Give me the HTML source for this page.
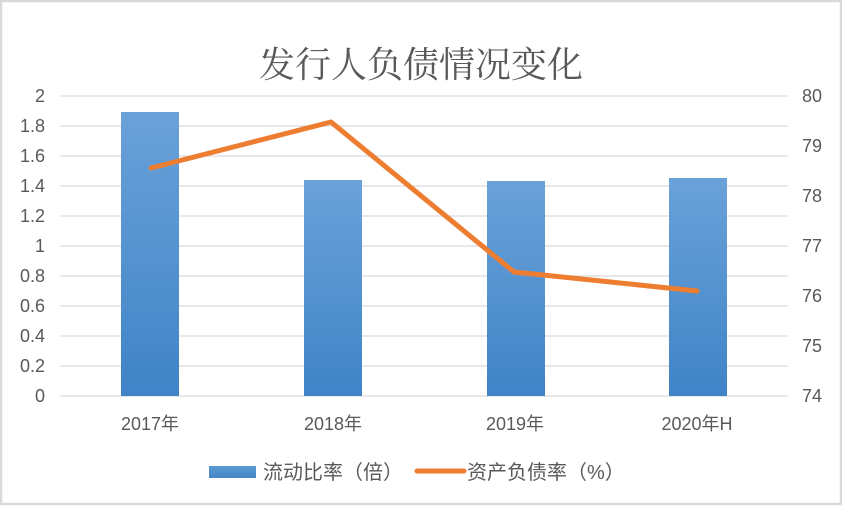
<!DOCTYPE html>
<html>
<head>
<meta charset="utf-8">
<style>
html,body{margin:0;padding:0;background:#fff;}
body{width:842px;height:506px;overflow:hidden;}
svg text{font-family:"Liberation Sans","Noto Sans CJK SC",sans-serif;fill:#595959;}
</style>
</head>
<body>
<svg width="842" height="506" viewBox="0 0 842 506" xmlns="http://www.w3.org/2000/svg">
<defs>
<linearGradient id="bg" x1="0" y1="0" x2="0" y2="1">
<stop offset="0" stop-color="#6aa1d9"/>
<stop offset="1" stop-color="#3f84c7"/>
</linearGradient>
<linearGradient id="lg" x1="0" y1="0" x2="0" y2="1">
<stop offset="0" stop-color="#5b9bd5"/>
<stop offset="1" stop-color="#4485c6"/>
</linearGradient>
</defs>
<rect x="0" y="0" width="842" height="506" fill="#fff"/>
<rect x="1" y="1" width="840" height="503" fill="none" stroke="#d9d9d9" stroke-width="2.5"/>

<text x="421" y="77" text-anchor="middle" font-size="36" style="fill:#595959;font-family:'Noto Serif CJK SC','Noto Sans CJK SC',serif;">发行人负债情况变化</text>

<g stroke="#d9d9d9" stroke-width="1.2">
<line x1="60" y1="96" x2="788" y2="96"/>
<line x1="60" y1="126" x2="788" y2="126"/>
<line x1="60" y1="156" x2="788" y2="156"/>
<line x1="60" y1="186" x2="788" y2="186"/>
<line x1="60" y1="216" x2="788" y2="216"/>
<line x1="60" y1="246" x2="788" y2="246"/>
<line x1="60" y1="276" x2="788" y2="276"/>
<line x1="60" y1="306" x2="788" y2="306"/>
<line x1="60" y1="336" x2="788" y2="336"/>
<line x1="60" y1="366" x2="788" y2="366"/>
<line x1="60" y1="396" x2="788" y2="396"/>
</g>

<g font-size="18" text-anchor="end">
<text x="45" y="102">2</text>
<text x="45" y="132">1.8</text>
<text x="45" y="162">1.6</text>
<text x="45" y="192">1.4</text>
<text x="45" y="222">1.2</text>
<text x="45" y="252">1</text>
<text x="45" y="282">0.8</text>
<text x="45" y="312">0.6</text>
<text x="45" y="342">0.4</text>
<text x="45" y="372">0.2</text>
<text x="45" y="402">0</text>
</g>

<g font-size="18">
<text x="802" y="102">80</text>
<text x="802" y="152">79</text>
<text x="802" y="202">78</text>
<text x="802" y="252">77</text>
<text x="802" y="302">76</text>
<text x="802" y="352">75</text>
<text x="802" y="402">74</text>
</g>

<g fill="url(#bg)">
<rect x="121" y="112" width="58" height="284"/>
<rect x="304" y="180" width="58" height="216"/>
<rect x="487" y="181" width="58" height="215"/>
<rect x="669" y="178" width="58" height="218"/>
</g>

<polyline points="151,168 331,122 514,272 697,291" fill="none" stroke="#ed7d31" stroke-width="5" stroke-linejoin="round" stroke-linecap="round"/>

<g font-size="18" text-anchor="middle">
<text x="150" y="430">2017年</text>
<text x="333" y="430">2018年</text>
<text x="515" y="430">2019年</text>
<text x="697" y="430">2020年H</text>
</g>

<rect x="209" y="466" width="47" height="12" fill="url(#lg)"/>
<text x="263" y="479" font-size="20">流动比率（倍）</text>
<line x1="417" y1="471" x2="464" y2="471" stroke="#ed7d31" stroke-width="5" stroke-linecap="round"/>
<text x="467" y="479" font-size="20">资产负债率（%）</text>
</svg>
</body>
</html>
